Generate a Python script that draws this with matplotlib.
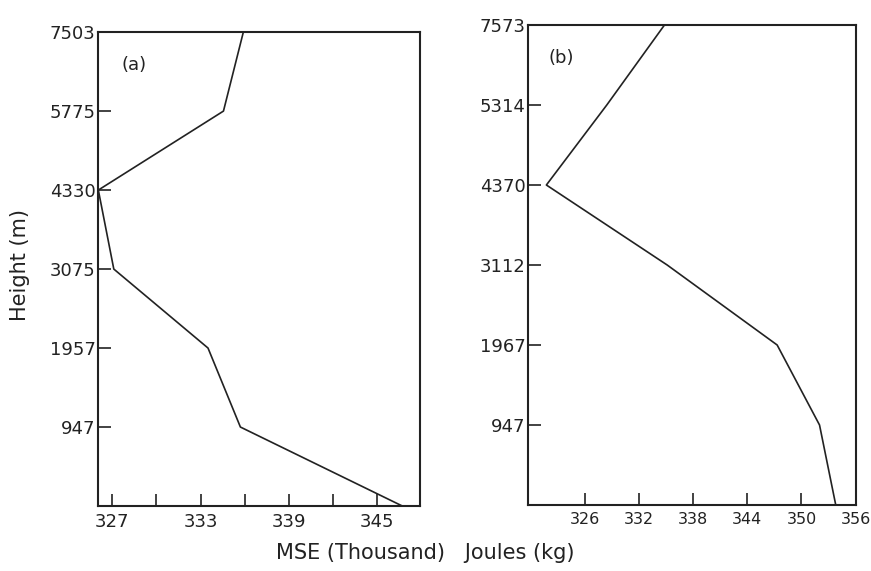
import matplotlib
matplotlib.use("Agg")
import matplotlib.pyplot as plt

# niveles (equiespaciados en el dibujo) y sus alturas
niveles = [0, 1, 2, 3, 4, 5, 6]
alturas_a = ["947", "1957", "3075", "4330", "5775", "7503"]
alturas_b = ["947", "1967", "3112", "4370", "5314", "7573"]

# MSE (miles de J/kg)
mse_a = [346.7, 335.7, 333.5, 327.1, 326.05, 334.55, 335.9]
mse_b = [353.8, 352.0, 347.3, 335.1, 321.7, 328.4, 334.8]

ticks_a = [327, 333, 339, 345]
ticks_a_menor = [330, 336, 342]
ticks_b = [326, 332, 338, 344, 350, 356]

color = "#222222"
plt.rcParams["font.family"] = "DejaVu Sans"

fig = plt.figure(figsize=(8.71, 5.71), dpi=100)
ax1 = fig.add_axes([0.1129, 0.1138, 0.3693, 0.830])
ax2 = fig.add_axes([0.6066, 0.1156, 0.3757, 0.8406])

ax1.plot(mse_a, niveles, color=color, lw=1.2)
ax2.plot(mse_b, niveles, color=color, lw=1.2)

ax1.set_xlim(326.05, 347.9)
ax2.set_xlim(319.7, 356)
for ax, etiquetas in [(ax1, alturas_a), (ax2, alturas_b)]:
    ax.set_ylim(0, 6)
    ax.set_yticks(niveles[1:])
    ax.set_yticklabels(etiquetas)
    for s in ax.spines.values():
        s.set_linewidth(1.5)
        s.set_color(color)
    ax.tick_params(direction="in", length=9, width=1.2, color=color,
                   labelsize=13, labelcolor=color)
    ax.tick_params(axis="y", pad=2)
    ax.tick_params(axis="x", pad=5)

ax1.set_xticks(ticks_a)
ax1.set_xticks(ticks_a_menor, minor=True)
ax1.tick_params(which="minor", direction="in", length=9, width=1.2, color=color)
ax2.set_xticks(ticks_b)
ax2.tick_params(axis="x", labelsize=11.5)

ax1.text(0.111, 0.93, "(a)", transform=ax1.transAxes, fontsize=13,
         ha="center", va="center", color=color)
ax2.text(0.10, 0.931, "(b)", transform=ax2.transAxes, fontsize=13,
         ha="center", va="center", color=color)

fig.text(0.023, 0.536, "Height (m)", rotation=90, fontsize=15,
         ha="center", va="center", color=color)
fig.text(0.488, 0.032, "MSE (Thousand)   Joules (kg)", fontsize=15,
         ha="center", va="center", color=color)

fig.savefig("out.png", dpi=100)
